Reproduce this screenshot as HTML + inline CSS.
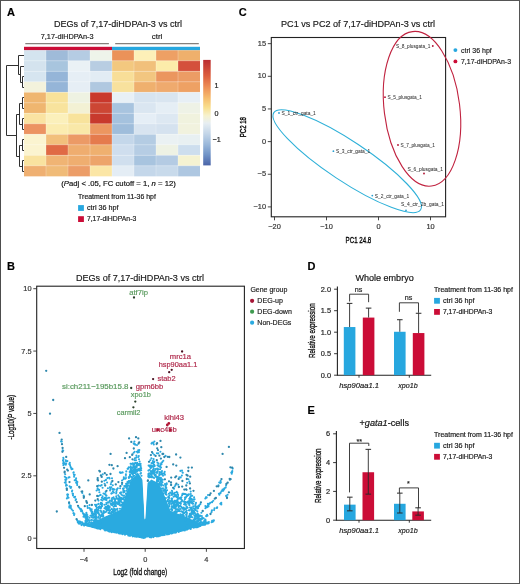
<!DOCTYPE html>
<html><head><meta charset="utf-8"><style>
html,body{margin:0;padding:0;background:#fff;}
body{width:520px;height:584px;overflow:hidden;position:relative;}
svg{position:absolute;left:0;top:0;font-family:"Liberation Sans", sans-serif;filter:blur(0.3px);}
text{stroke:currentColor;stroke-width:0.18px;}
.frame{position:absolute;left:0;top:0;width:520px;height:584px;box-sizing:border-box;border:1px solid #555;border-left:1.5px solid #4d4d4d;}
</style></head><body>
<svg width="520" height="584" viewBox="0 0 520 584">
<text x="6.9" y="15.9" font-size="11" fill="#000" color="#000" font-weight="bold">A</text>
<text x="54" y="27.4" font-size="9.3" fill="#1a1a1a" color="#1a1a1a" textLength="128" lengthAdjust="spacingAndGlyphs">DEGs of 7,17-diHDPAn-3 vs ctrl</text>
<text x="40.7" y="39.3" font-size="7.4" fill="#1a1a1a" color="#1a1a1a" textLength="52.9" lengthAdjust="spacingAndGlyphs">7,17-diHDPAn-3</text>
<text x="151.8" y="39.3" font-size="7.4" fill="#1a1a1a" color="#1a1a1a" textLength="10.6" lengthAdjust="spacingAndGlyphs">ctrl</text>
<line x1="25.3" y1="43.6" x2="108.9" y2="43.6" stroke="#85807c" stroke-width="1.4"/>
<line x1="115.2" y1="43.6" x2="198.8" y2="43.6" stroke="#85807c" stroke-width="1.4"/>
<rect x="24" y="46.8" width="88" height="3.5" fill="#cb0d37"/>
<rect x="112" y="46.8" width="88" height="3.5" fill="#27a7df"/>
<rect x="24" y="50.3" width="22" height="10.55" fill="#d4e4ef"/>
<rect x="46" y="50.3" width="22" height="10.55" fill="#9fbbd9"/>
<rect x="68" y="50.3" width="22" height="10.55" fill="#b5cce3"/>
<rect x="90" y="50.3" width="22" height="10.55" fill="#eef4ea"/>
<rect x="112" y="50.3" width="22" height="10.55" fill="#eb9259"/>
<rect x="134" y="50.3" width="22" height="10.55" fill="#fdf0b8"/>
<rect x="156" y="50.3" width="22" height="10.55" fill="#eea064"/>
<rect x="178" y="50.3" width="22" height="10.55" fill="#efb06c"/>
<rect x="24" y="60.8" width="22" height="10.55" fill="#d4e3ee"/>
<rect x="46" y="60.8" width="22" height="10.55" fill="#a8c5de"/>
<rect x="68" y="60.8" width="22" height="10.55" fill="#eaf1f5"/>
<rect x="90" y="60.8" width="22" height="10.55" fill="#b8cde2"/>
<rect x="112" y="60.8" width="22" height="10.55" fill="#f3c87f"/>
<rect x="134" y="60.8" width="22" height="10.55" fill="#f1c07b"/>
<rect x="156" y="60.8" width="22" height="10.55" fill="#fcecaa"/>
<rect x="178" y="60.8" width="22" height="10.55" fill="#d4503c"/>
<rect x="24" y="71.3" width="22" height="10.55" fill="#d6e5f0"/>
<rect x="46" y="71.3" width="22" height="10.55" fill="#95b5d8"/>
<rect x="68" y="71.3" width="22" height="10.55" fill="#e6eef5"/>
<rect x="90" y="71.3" width="22" height="10.55" fill="#e2ecf4"/>
<rect x="112" y="71.3" width="22" height="10.55" fill="#f8de98"/>
<rect x="134" y="71.3" width="22" height="10.55" fill="#f2c680"/>
<rect x="156" y="71.3" width="22" height="10.55" fill="#eb965f"/>
<rect x="178" y="71.3" width="22" height="10.55" fill="#ec9c65"/>
<rect x="24" y="81.8" width="22" height="10.55" fill="#f3f2dc"/>
<rect x="46" y="81.8" width="22" height="10.55" fill="#95b5d8"/>
<rect x="68" y="81.8" width="22" height="10.55" fill="#e6eef5"/>
<rect x="90" y="81.8" width="22" height="10.55" fill="#b0c8e0"/>
<rect x="112" y="81.8" width="22" height="10.55" fill="#f8e19d"/>
<rect x="134" y="81.8" width="22" height="10.55" fill="#efb06e"/>
<rect x="156" y="81.8" width="22" height="10.55" fill="#efaa6e"/>
<rect x="178" y="81.8" width="22" height="10.55" fill="#eea164"/>
<rect x="24" y="92.3" width="22" height="10.55" fill="#efb670"/>
<rect x="46" y="92.3" width="22" height="10.55" fill="#f8e29a"/>
<rect x="68" y="92.3" width="22" height="10.55" fill="#eef2e2"/>
<rect x="90" y="92.3" width="22" height="10.55" fill="#c9382c"/>
<rect x="112" y="92.3" width="22" height="10.55" fill="#e8f0f6"/>
<rect x="134" y="92.3" width="22" height="10.55" fill="#d7e4f0"/>
<rect x="156" y="92.3" width="22" height="10.55" fill="#d9e5f0"/>
<rect x="178" y="92.3" width="22" height="10.55" fill="#e7eff5"/>
<rect x="24" y="102.8" width="22" height="10.55" fill="#efb670"/>
<rect x="46" y="102.8" width="22" height="10.55" fill="#f8e39d"/>
<rect x="68" y="102.8" width="22" height="10.55" fill="#f3f1d4"/>
<rect x="90" y="102.8" width="22" height="10.55" fill="#cc4634"/>
<rect x="112" y="102.8" width="22" height="10.55" fill="#a8c4df"/>
<rect x="134" y="102.8" width="22" height="10.55" fill="#dae6f1"/>
<rect x="156" y="102.8" width="22" height="10.55" fill="#e5eef5"/>
<rect x="178" y="102.8" width="22" height="10.55" fill="#eef2e6"/>
<rect x="24" y="113.3" width="22" height="10.55" fill="#fae3a2"/>
<rect x="46" y="113.3" width="22" height="10.55" fill="#fbf0bb"/>
<rect x="68" y="113.3" width="22" height="10.55" fill="#f8e39c"/>
<rect x="90" y="113.3" width="22" height="10.55" fill="#c8392d"/>
<rect x="112" y="113.3" width="22" height="10.55" fill="#a5c2de"/>
<rect x="134" y="113.3" width="22" height="10.55" fill="#e5eef6"/>
<rect x="156" y="113.3" width="22" height="10.55" fill="#dde8f2"/>
<rect x="178" y="113.3" width="22" height="10.55" fill="#f0f2de"/>
<rect x="24" y="123.8" width="22" height="10.55" fill="#ec9362"/>
<rect x="46" y="123.8" width="22" height="10.55" fill="#fbecb0"/>
<rect x="68" y="123.8" width="22" height="10.55" fill="#f9e8a8"/>
<rect x="90" y="123.8" width="22" height="10.55" fill="#ec9660"/>
<rect x="112" y="123.8" width="22" height="10.55" fill="#9fbddb"/>
<rect x="134" y="123.8" width="22" height="10.55" fill="#d8e4f0"/>
<rect x="156" y="123.8" width="22" height="10.55" fill="#d5e2ef"/>
<rect x="178" y="123.8" width="22" height="10.55" fill="#f1f2de"/>
<rect x="24" y="134.3" width="22" height="10.55" fill="#fbf4d0"/>
<rect x="46" y="134.3" width="22" height="10.55" fill="#f2c07c"/>
<rect x="68" y="134.3" width="22" height="10.55" fill="#ec9a66"/>
<rect x="90" y="134.3" width="22" height="10.55" fill="#e57b4d"/>
<rect x="112" y="134.3" width="22" height="10.55" fill="#c4d7ea"/>
<rect x="134" y="134.3" width="22" height="10.55" fill="#b4cce3"/>
<rect x="156" y="134.3" width="22" height="10.55" fill="#eaf1f3"/>
<rect x="178" y="134.3" width="22" height="10.55" fill="#e8f0f2"/>
<rect x="24" y="144.8" width="22" height="10.55" fill="#fbf4d0"/>
<rect x="46" y="144.8" width="22" height="10.55" fill="#e06a45"/>
<rect x="68" y="144.8" width="22" height="10.55" fill="#efad6f"/>
<rect x="90" y="144.8" width="22" height="10.55" fill="#efb06f"/>
<rect x="112" y="144.8" width="22" height="10.55" fill="#cfdeee"/>
<rect x="134" y="144.8" width="22" height="10.55" fill="#b6cde4"/>
<rect x="156" y="144.8" width="22" height="10.55" fill="#eef2e4"/>
<rect x="178" y="144.8" width="22" height="10.55" fill="#cddeee"/>
<rect x="24" y="155.3" width="22" height="10.55" fill="#f9e3a0"/>
<rect x="46" y="155.3" width="22" height="10.55" fill="#f0b474"/>
<rect x="68" y="155.3" width="22" height="10.55" fill="#efae70"/>
<rect x="90" y="155.3" width="22" height="10.55" fill="#eda46a"/>
<rect x="112" y="155.3" width="22" height="10.55" fill="#d0dfee"/>
<rect x="134" y="155.3" width="22" height="10.55" fill="#a8c4df"/>
<rect x="156" y="155.3" width="22" height="10.55" fill="#b4cbe3"/>
<rect x="178" y="155.3" width="22" height="10.55" fill="#f5f3d2"/>
<rect x="24" y="165.8" width="22" height="10.55" fill="#efb072"/>
<rect x="46" y="165.8" width="22" height="10.55" fill="#f0bb78"/>
<rect x="68" y="165.8" width="22" height="10.55" fill="#ec9d68"/>
<rect x="90" y="165.8" width="22" height="10.55" fill="#fbe6a6"/>
<rect x="112" y="165.8" width="22" height="10.55" fill="#e4edf5"/>
<rect x="134" y="165.8" width="22" height="10.55" fill="#c4d7ea"/>
<rect x="156" y="165.8" width="22" height="10.55" fill="#c8daeb"/>
<rect x="178" y="165.8" width="22" height="10.55" fill="#aec7e1"/>
<line x1="46" y1="50.3" x2="46" y2="176.3" stroke="#ffffff" stroke-width="0.25"/>
<line x1="68" y1="50.3" x2="68" y2="176.3" stroke="#ffffff" stroke-width="0.25"/>
<line x1="90" y1="50.3" x2="90" y2="176.3" stroke="#ffffff" stroke-width="0.25"/>
<line x1="112" y1="50.3" x2="112" y2="176.3" stroke="#ffffff" stroke-width="0.25"/>
<line x1="134" y1="50.3" x2="134" y2="176.3" stroke="#ffffff" stroke-width="0.25"/>
<line x1="156" y1="50.3" x2="156" y2="176.3" stroke="#ffffff" stroke-width="0.25"/>
<line x1="178" y1="50.3" x2="178" y2="176.3" stroke="#ffffff" stroke-width="0.25"/>
<line x1="24" y1="60.8" x2="200" y2="60.8" stroke="#ffffff" stroke-width="0.25"/>
<line x1="24" y1="71.3" x2="200" y2="71.3" stroke="#ffffff" stroke-width="0.25"/>
<line x1="24" y1="81.8" x2="200" y2="81.8" stroke="#ffffff" stroke-width="0.25"/>
<line x1="24" y1="92.3" x2="200" y2="92.3" stroke="#ffffff" stroke-width="0.25"/>
<line x1="24" y1="102.8" x2="200" y2="102.8" stroke="#ffffff" stroke-width="0.25"/>
<line x1="24" y1="113.3" x2="200" y2="113.3" stroke="#ffffff" stroke-width="0.25"/>
<line x1="24" y1="123.8" x2="200" y2="123.8" stroke="#ffffff" stroke-width="0.25"/>
<line x1="24" y1="134.3" x2="200" y2="134.3" stroke="#ffffff" stroke-width="0.25"/>
<line x1="24" y1="144.8" x2="200" y2="144.8" stroke="#ffffff" stroke-width="0.25"/>
<line x1="24" y1="155.3" x2="200" y2="155.3" stroke="#ffffff" stroke-width="0.25"/>
<line x1="24" y1="165.8" x2="200" y2="165.8" stroke="#ffffff" stroke-width="0.25"/>
<defs><linearGradient id="cb" x1="0" y1="0" x2="0" y2="1"><stop offset="0" stop-color="#bb2f33"/><stop offset="0.15" stop-color="#dc5e3e"/><stop offset="0.26" stop-color="#ee8f56"/><stop offset="0.36" stop-color="#f6bc6d"/><stop offset="0.45" stop-color="#f9df8e"/><stop offset="0.53" stop-color="#f6f2cf"/><stop offset="0.6" stop-color="#e7eef2"/><stop offset="0.7" stop-color="#c3d5e8"/><stop offset="0.8" stop-color="#9bb8da"/><stop offset="0.9" stop-color="#7093c7"/><stop offset="1" stop-color="#4a64a8"/></linearGradient></defs>
<rect x="203.2" y="59.9" width="7.5" height="105.5" fill="url(#cb)"/>
<text x="214.5" y="87.5" font-size="7.2" fill="#1a1a1a" color="#1a1a1a">1</text>
<text x="214.5" y="115.5" font-size="7.2" fill="#1a1a1a" color="#1a1a1a">0</text>
<text x="212.5" y="141.5" font-size="7.2" fill="#1a1a1a" color="#1a1a1a">−1</text>
<path d="M24,76.5 L22.5,76.5 L22.5,87.5 L24,87.5" fill="none" stroke="#303030" stroke-width="1"/>
<path d="M24,66.5 L20.5,66.5 L20.5,82.5 L22.5,82.5" fill="none" stroke="#303030" stroke-width="1"/>
<path d="M24,55.5 L18.5,55.5 L18.5,74.5 L20.5,74.5" fill="none" stroke="#303030" stroke-width="1"/>
<path d="M24,97.5 L22.5,97.5 L22.5,108.5 L24,108.5" fill="none" stroke="#303030" stroke-width="1"/>
<path d="M24,118.5 L22.5,118.5 L22.5,129.5 L24,129.5" fill="none" stroke="#303030" stroke-width="1"/>
<path d="M22.5,103.5 L19.5,103.5 L19.5,124.5 L22.5,124.5" fill="none" stroke="#303030" stroke-width="1"/>
<path d="M24,139.5 L22.5,139.5 L22.5,150.5 L24,150.5" fill="none" stroke="#303030" stroke-width="1"/>
<path d="M24,160.5 L22.5,160.5 L22.5,171.5 L24,171.5" fill="none" stroke="#303030" stroke-width="1"/>
<path d="M22.5,145.5 L19.5,145.5 L19.5,166.5 L22.5,166.5" fill="none" stroke="#303030" stroke-width="1"/>
<path d="M19.5,114.5 L16.5,114.5 L16.5,156.5 L19.5,156.5" fill="none" stroke="#303030" stroke-width="1"/>
<path d="M18.5,65.5 L6.5,65.5 L6.5,135.5 L16.5,135.5" fill="none" stroke="#303030" stroke-width="1"/>
<text x="61.3" y="185.8" font-size="7.6" fill="#1a1a1a" textLength="114.5" lengthAdjust="spacingAndGlyphs">(<tspan font-style="italic">P</tspan>adj &lt; .05, FC cutoff = 1, <tspan font-style="italic">n</tspan> = 12)</text>
<text x="78.1" y="199" font-size="6.6" fill="#1a1a1a" color="#1a1a1a" textLength="77.8" lengthAdjust="spacingAndGlyphs">Treatment from 11-36 hpf</text>
<rect x="78.1" y="205.1" width="5.8" height="5.8" fill="#27a7df"/>
<text x="86.89999999999999" y="210.0" font-size="6.9" fill="#1a1a1a" color="#1a1a1a" textLength="31.6" lengthAdjust="spacingAndGlyphs">ctrl 36 hpf</text>
<rect x="78.1" y="216.2" width="5.8" height="5.8" fill="#cb0d37"/>
<text x="86.89999999999999" y="221.1" font-size="6.9" fill="#1a1a1a" color="#1a1a1a" textLength="49.4" lengthAdjust="spacingAndGlyphs">7,17-diHDPAn-3</text>
<text x="238.8" y="16.2" font-size="11" fill="#000" color="#000" font-weight="bold">C</text>
<text x="281" y="27.3" font-size="9.3" fill="#1a1a1a" color="#1a1a1a" textLength="154" lengthAdjust="spacingAndGlyphs">PC1 vs PC2 of 7,17-diHDPAn-3 vs ctrl</text>
<rect x="271.3" y="37.5" width="174.3" height="179.3" fill="none" stroke="#222" stroke-width="1.1"/>
<line x1="267.8" y1="43.64999999999999" x2="271.3" y2="43.64999999999999" stroke="#333" stroke-width="0.9"/>
<text x="266" y="45.74999999999999" font-size="7.4" fill="#333" color="#333" text-anchor="end">15</text>
<line x1="267.8" y1="76.3" x2="271.3" y2="76.3" stroke="#333" stroke-width="0.9"/>
<text x="266" y="78.39999999999999" font-size="7.4" fill="#333" color="#333" text-anchor="end">10</text>
<line x1="267.8" y1="108.94999999999999" x2="271.3" y2="108.94999999999999" stroke="#333" stroke-width="0.9"/>
<text x="266" y="111.04999999999998" font-size="7.4" fill="#333" color="#333" text-anchor="end">5</text>
<line x1="267.8" y1="141.6" x2="271.3" y2="141.6" stroke="#333" stroke-width="0.9"/>
<text x="266" y="143.7" font-size="7.4" fill="#333" color="#333" text-anchor="end">0</text>
<line x1="267.8" y1="174.25" x2="271.3" y2="174.25" stroke="#333" stroke-width="0.9"/>
<text x="266" y="176.35" font-size="7.4" fill="#333" color="#333" text-anchor="end">−5</text>
<line x1="267.8" y1="206.89999999999998" x2="271.3" y2="206.89999999999998" stroke="#333" stroke-width="0.9"/>
<text x="266" y="208.99999999999997" font-size="7.4" fill="#333" color="#333" text-anchor="end">−10</text>
<line x1="274.5" y1="216.8" x2="274.5" y2="220.3" stroke="#333" stroke-width="0.9"/>
<text x="274.5" y="229.1" font-size="7.4" fill="#333" color="#333" text-anchor="middle">−20</text>
<line x1="326.5" y1="216.8" x2="326.5" y2="220.3" stroke="#333" stroke-width="0.9"/>
<text x="326.5" y="229.1" font-size="7.4" fill="#333" color="#333" text-anchor="middle">−10</text>
<line x1="378.5" y1="216.8" x2="378.5" y2="220.3" stroke="#333" stroke-width="0.9"/>
<text x="378.5" y="229.1" font-size="7.4" fill="#333" color="#333" text-anchor="middle">0</text>
<line x1="430.5" y1="216.8" x2="430.5" y2="220.3" stroke="#333" stroke-width="0.9"/>
<text x="430.5" y="229.1" font-size="7.4" fill="#333" color="#333" text-anchor="middle">10</text>
<text x="345.6" y="242.9" font-size="9.8" fill="#1e1e1e" style="stroke-width:0.4px" textLength="25.7" lengthAdjust="spacingAndGlyphs">PC1 24.8</text>
<text transform="translate(246.1,137.3) rotate(-90)" x="0" y="0" font-size="9.2" fill="#1e1e1e" style="stroke-width:0.4px" textLength="20.3" lengthAdjust="spacingAndGlyphs">PC2 18</text>
<ellipse cx="347.2" cy="161.2" rx="88" ry="20" transform="rotate(33.5 347.2 161.2)" fill="none" stroke="#2eb0d8" stroke-width="1.1"/>
<ellipse cx="422" cy="108.8" rx="37.8" ry="77.8" transform="rotate(-7 422 108.8)" fill="none" stroke="#c0223f" stroke-width="1.1"/>
<circle cx="279" cy="113" r="0.9" fill="#2a9fd0"/>
<text x="281.5" y="114.9" font-size="5.2" fill="#333" color="#333" textLength="34.3" lengthAdjust="spacingAndGlyphs" style="stroke-width:0.05px">S_1_ctr_gata_1</text>
<circle cx="333.4" cy="151.2" r="0.9" fill="#2a9fd0"/>
<text x="335.9" y="153.1" font-size="5.2" fill="#333" color="#333" textLength="34.3" lengthAdjust="spacingAndGlyphs" style="stroke-width:0.05px">S_3_ctr_gata_1</text>
<circle cx="372.3" cy="195.6" r="0.9" fill="#2a9fd0"/>
<text x="374.8" y="197.5" font-size="5.2" fill="#333" color="#333" textLength="34.3" lengthAdjust="spacingAndGlyphs" style="stroke-width:0.05px">S_2_ctr_gata_1</text>
<circle cx="406" cy="210.3" r="0.9" fill="#2a9fd0"/>
<text x="401" y="205.9" font-size="5.2" fill="#333" color="#333" textLength="43" lengthAdjust="spacingAndGlyphs" style="stroke-width:0.05px">S_4_ctr_2b_gata_1</text>
<circle cx="432.8" cy="46" r="0.9" fill="#b01030"/>
<text x="430.3" y="47.9" font-size="5.2" fill="#333" color="#333" text-anchor="end" textLength="34.3" lengthAdjust="spacingAndGlyphs" style="stroke-width:0.05px">S_8_plusgata_1</text>
<circle cx="385" cy="97.2" r="0.9" fill="#b01030"/>
<text x="387.5" y="99.10000000000001" font-size="5.2" fill="#333" color="#333" textLength="34.3" lengthAdjust="spacingAndGlyphs" style="stroke-width:0.05px">S_5_plusgata_1</text>
<circle cx="398" cy="145" r="0.9" fill="#b01030"/>
<text x="400.5" y="146.9" font-size="5.2" fill="#333" color="#333" textLength="34.3" lengthAdjust="spacingAndGlyphs" style="stroke-width:0.05px">S_7_plusgata_1</text>
<circle cx="424" cy="173.5" r="0.9" fill="#b01030"/>
<text x="407.6" y="170.6" font-size="5.2" fill="#333" color="#333" textLength="35.4" lengthAdjust="spacingAndGlyphs" style="stroke-width:0.05px">S_6_plusgata_1</text>
<circle cx="455.4" cy="50.1" r="1.95" fill="#27a7df"/>
<circle cx="455.4" cy="61.4" r="1.95" fill="#cb0d37"/>
<text x="461" y="52.8" font-size="8" fill="#1a1a1a" color="#1a1a1a" textLength="30.8" lengthAdjust="spacingAndGlyphs">ctrl 36 hpf</text>
<text x="461" y="64.2" font-size="8" fill="#1a1a1a" color="#1a1a1a" textLength="50" lengthAdjust="spacingAndGlyphs">7,17-diHDPAn-3</text>
<text x="6.9" y="269.8" font-size="11" fill="#000" color="#000" font-weight="bold">B</text>
<text x="76" y="281.3" font-size="9.3" fill="#1a1a1a" color="#1a1a1a" textLength="128" lengthAdjust="spacingAndGlyphs">DEGs of 7,17-diHDPAn-3 vs ctrl</text>
<path d="M85.5,524.0 L86.3,524.3 L87.1,524.5 L87.8,524.2 L88.6,523.9 L89.4,523.5 L90.1,523.2 L90.9,522.9 L91.6,522.6 L92.4,522.3 L93.2,522.0 L93.9,521.6 L94.7,521.3 L95.5,520.9 L96.2,520.6 L97.0,520.2 L97.8,519.9 L98.5,519.6 L99.3,519.2 L100.1,518.9 L100.8,518.5 L101.6,518.2 L102.4,517.8 L103.1,517.5 L103.9,517.1 L104.7,516.8 L105.4,516.4 L106.2,516.1 L106.9,515.7 L107.7,515.4 L108.5,515.1 L109.2,514.7 L110.0,514.4 L110.8,514.0 L111.5,513.7 L112.3,513.3 L113.1,513.0 L113.8,512.6 L114.6,512.3 L115.4,511.9 L116.1,511.6 L116.9,511.2 L117.7,510.9 L118.4,510.5 L119.2,510.2 L120.0,509.9 L120.7,509.5 L121.5,507.2 L122.2,504.9 L123.0,502.6 L123.8,500.2 L124.5,497.9 L125.3,495.6 L126.1,493.3 L126.8,491.3 L127.6,489.4 L128.4,487.4 L129.1,485.4 L129.9,483.5 L130.7,481.5 L131.4,479.6 L132.2,478.9 L133.0,478.2 L133.7,477.5 L134.5,476.8 L135.3,476.1 L136.0,475.4 L136.8,474.7 L137.5,474.0 L138.3,473.3 L139.1,474.5 L139.8,475.6 L140.6,476.7 L141.4,477.9 L142.1,479.0 L142.9,480.1 L144.4,518.2 L144.9,519.5 L145.4,518.2 L147.5,482.9 L148.3,482.2 L149.0,481.6 L149.8,480.9 L150.6,480.2 L151.3,479.6 L152.1,479.9 L152.8,480.3 L153.6,480.7 L154.4,481.1 L155.1,481.4 L155.9,481.8 L156.7,482.2 L157.4,482.6 L158.2,482.9 L159.0,483.3 L159.7,485.0 L160.5,486.7 L161.3,488.5 L162.0,490.2 L162.8,491.9 L163.6,493.6 L164.3,495.3 L165.1,497.0 L165.9,499.0 L166.6,501.0 L167.4,502.9 L168.2,504.9 L168.9,506.8 L169.7,508.8 L170.4,510.8 L171.2,511.0 L172.0,511.3 L172.7,511.6 L173.5,511.9 L174.3,512.2 L175.0,512.5 L175.8,512.8 L176.6,513.1 L177.3,513.4 L178.1,513.7 L178.9,514.0 L179.6,514.3 L180.4,514.6 L181.2,514.9 L181.9,515.2 L182.7,515.5 L183.4,515.7 L184.2,516.1 L185.0,516.4 L185.7,516.8 L186.5,517.1 L187.3,517.5 L188.0,517.8 L188.8,518.2 L189.6,518.5 L190.3,518.9 L191.1,519.2 L191.9,519.6 L192.6,519.9 L193.4,520.2 L194.2,520.6 L194.9,520.9 L195.7,521.3 L196.5,521.6 L197.2,522.0 L198.0,522.2 L198.8,522.5 L199.5,522.8 L200.3,523.0 L201.0,523.3 L201.8,523.5 L202.6,523.8 L203.3,524.1 L203.3,524.8 L202.6,525.0 L201.8,525.3 L201.0,525.5 L200.3,525.7 L199.5,526.0 L198.8,526.2 L198.0,526.5 L197.2,526.7 L196.5,526.9 L195.7,527.2 L194.9,527.4 L194.2,527.6 L193.4,527.8 L192.6,528.1 L191.9,528.3 L191.1,528.5 L190.3,528.7 L189.6,528.9 L188.8,529.1 L188.0,529.3 L187.3,529.5 L186.5,529.7 L185.7,529.9 L185.0,530.1 L184.2,530.3 L183.4,530.5 L182.7,530.7 L181.9,530.9 L181.2,531.1 L180.4,531.3 L179.6,531.5 L178.9,531.7 L178.1,531.9 L177.3,532.0 L176.6,532.2 L175.8,532.4 L175.0,532.6 L174.3,532.7 L173.5,532.9 L172.7,533.1 L172.0,533.2 L171.2,533.4 L170.4,533.6 L169.7,533.7 L168.9,533.9 L168.2,534.0 L167.4,534.2 L166.6,534.3 L165.9,534.5 L165.1,534.6 L164.3,534.8 L163.6,534.9 L162.8,535.1 L162.0,535.2 L161.3,535.3 L160.5,535.5 L159.7,535.6 L159.0,535.7 L158.2,535.9 L157.4,536.0 L156.7,536.1 L155.9,536.2 L155.1,536.3 L154.4,536.5 L153.6,536.6 L152.8,536.7 L152.1,536.8 L151.3,536.9 L150.6,537.0 L149.8,537.1 L149.0,537.2 L148.3,537.3 L147.5,537.4 L146.7,537.5 L146.0,537.6 L145.2,537.7 L144.4,537.6 L143.7,537.5 L142.9,537.4 L142.1,537.3 L141.4,537.2 L140.6,537.1 L139.8,537.0 L139.1,536.9 L138.3,536.8 L137.5,536.7 L136.8,536.6 L136.0,536.5 L135.3,536.3 L134.5,536.2 L133.7,536.1 L133.0,536.0 L132.2,535.9 L131.4,535.7 L130.7,535.6 L129.9,535.5 L129.1,535.3 L128.4,535.2 L127.6,535.1 L126.8,534.9 L126.1,534.8 L125.3,534.6 L124.5,534.5 L123.8,534.3 L123.0,534.2 L122.2,534.0 L121.5,533.9 L120.7,533.7 L120.0,533.6 L119.2,533.4 L118.4,533.2 L117.7,533.1 L116.9,532.9 L116.1,532.7 L115.4,532.6 L114.6,532.4 L113.8,532.2 L113.1,532.0 L112.3,531.9 L111.5,531.7 L110.8,531.5 L110.0,531.3 L109.2,531.1 L108.5,530.9 L107.7,530.7 L106.9,530.5 L106.2,530.3 L105.4,530.1 L104.7,529.9 L103.9,529.7 L103.1,529.5 L102.4,529.3 L101.6,529.1 L100.8,528.9 L100.1,528.7 L99.3,528.5 L98.5,528.3 L97.8,528.1 L97.0,527.8 L96.2,527.6 L95.5,527.4 L94.7,527.2 L93.9,526.9 L93.2,526.7 L92.4,526.5 L91.6,526.2 L90.9,526.0 L90.1,525.7 L89.4,525.5 L88.6,525.3 L87.8,525.0 L87.1,524.8 L86.3,524.5 L85.5,524.3Z" fill="#2aaae0"/>
<path d="M144.9,519.5 L140.8,453.4 L149.0,453.4Z" fill="#fff"/>
<path d="M103.2 516.4h0M176.2 504.4h0M162.3 482.3h0M124.0 478.1h0M189.4 505.2h0M171.6 506.2h0M153.6 471.2h0M196.0 502.9h0M117.7 498.7h0M100.5 485.7h0M184.9 499.2h0M171.9 501.9h0M126.4 486.5h0M101.1 507.6h0M168.0 499.8h0M148.4 470.6h0M192.0 509.9h0M172.4 492.7h0M107.0 510.6h0M153.2 469.9h0M196.7 514.9h0M132.8 474.6h0M129.7 476.9h0M120.0 508.8h0M190.9 516.3h0M186.0 511.5h0M93.5 515.8h0M118.4 500.2h0M191.1 498.9h0M129.7 471.9h0M194.6 518.2h0M106.4 500.2h0M106.5 495.6h0M112.9 512.3h0M157.7 471.3h0M184.0 510.0h0M171.2 504.0h0M95.2 510.9h0M95.0 504.8h0M99.1 489.9h0M158.0 481.5h0M180.4 505.6h0M199.7 522.8h0M107.9 502.2h0M102.5 516.5h0M112.9 502.4h0M104.9 498.2h0M135.6 470.2h0M158.3 480.1h0M163.0 488.2h0M110.2 489.1h0M150.8 468.1h0M128.1 468.2h0M194.3 519.2h0M101.9 503.2h0M189.3 502.1h0M126.0 478.0h0M118.0 499.2h0M169.2 505.8h0M128.3 483.0h0M114.8 510.5h0M102.2 504.0h0M166.7 484.3h0M99.3 514.6h0M112.1 500.1h0M98.4 516.6h0M124.1 497.2h0M101.9 505.4h0M98.6 496.1h0M128.5 468.3h0M172.2 498.7h0M104.5 508.2h0M194.6 519.1h0M194.1 497.3h0M105.6 508.7h0M180.9 503.8h0M96.2 517.9h0M106.0 506.9h0M140.7 467.6h0M138.5 469.0h0M193.0 513.7h0M205.3 519.9h0M98.6 485.6h0M153.1 471.0h0M134.3 473.0h0M185.6 512.3h0M175.7 508.9h0M137.1 465.9h0M173.4 506.7h0M97.8 511.3h0M141.5 475.7h0M179.4 498.4h0M116.2 493.5h0M114.8 502.7h0M197.5 515.8h0M200.7 520.9h0M121.3 494.4h0M199.2 516.8h0M173.6 496.6h0M191.3 507.5h0M130.1 482.9h0M140.2 469.7h0M183.1 493.7h0M195.8 519.7h0M113.4 489.1h0M177.2 509.2h0M136.6 467.2h0M137.2 465.1h0M195.0 516.7h0M114.4 499.5h0M166.3 487.9h0M190.1 502.4h0M95.6 517.7h0M91.6 515.2h0M168.8 493.7h0M192.6 503.7h0M108.5 512.9h0M197.8 519.0h0M106.7 498.7h0M189.2 515.9h0M102.0 506.3h0M104.4 504.7h0M84.1 525.6h0M201.7 519.3h0M129.3 476.9h0M103.7 512.6h0M205.6 521.5h0M98.4 512.7h0M114.6 489.5h0M130.0 474.7h0M107.3 506.9h0M180.4 470.9h0M182.3 508.8h0M95.8 514.1h0M184.4 509.5h0M191.5 514.4h0M97.0 510.3h0M98.7 507.6h0M101.6 514.9h0M127.7 486.8h0M189.3 481.5h0M125.4 478.8h0M120.1 488.2h0M165.8 490.8h0M122.0 504.2h0M132.3 478.0h0M148.6 465.6h0M149.1 476.8h0M174.1 508.2h0M184.2 509.6h0M91.6 510.8h0M120.0 493.0h0M101.9 516.0h0M172.4 493.8h0M149.8 477.2h0M194.7 516.0h0M180.4 514.3h0M134.7 473.0h0M84.5 516.4h0M121.0 498.3h0M110.3 489.3h0M140.1 470.2h0M101.7 485.0h0M98.6 513.8h0M190.0 507.6h0M121.8 498.1h0M111.7 493.4h0M107.5 509.7h0M94.6 520.1h0M189.8 510.4h0M119.0 498.7h0M117.5 508.8h0M186.6 515.8h0M85.5 521.2h0M96.5 517.9h0M178.9 506.5h0M111.0 504.7h0M101.2 499.8h0M154.6 470.4h0M98.4 517.7h0M156.1 476.9h0M175.7 507.4h0M198.4 516.6h0M166.0 492.8h0M105.6 494.4h0M118.9 502.1h0M184.6 508.6h0M149.6 469.8h0M131.7 479.2h0M175.8 511.0h0M134.1 464.2h0M180.7 477.4h0M106.7 503.7h0M161.4 483.4h0M173.1 503.7h0M175.3 511.9h0M190.8 494.0h0M184.2 501.3h0M138.9 470.5h0M121.0 492.4h0M123.0 498.9h0M190.0 497.2h0M166.5 494.8h0M101.4 512.4h0M176.3 504.3h0M110.9 484.2h0M161.8 479.4h0M157.5 465.3h0M188.0 502.4h0M94.3 517.3h0M121.6 502.0h0M205.4 519.6h0M172.2 491.2h0M123.3 491.1h0M198.4 517.9h0M95.1 514.6h0M192.0 510.5h0M109.8 500.6h0M154.1 478.0h0M86.1 522.9h0M136.1 474.8h0M119.7 503.1h0M154.3 471.9h0M173.7 505.4h0M113.6 506.8h0M136.3 463.8h0M176.4 506.1h0M140.4 473.8h0M189.3 498.7h0M181.2 501.6h0M109.1 477.8h0M98.1 511.0h0M194.7 512.6h0M176.1 501.0h0M183.3 514.0h0M178.2 498.8h0M99.4 492.2h0M119.4 498.2h0M162.8 479.8h0M195.4 504.9h0M161.8 481.5h0M168.8 501.9h0M186.1 514.8h0M189.8 513.7h0M119.9 472.4h0M161.2 485.7h0M122.0 504.5h0M161.8 484.5h0M116.1 506.1h0M188.4 479.2h0M130.4 476.2h0M110.1 513.1h0M127.3 489.0h0M119.0 499.0h0M119.1 496.6h0M137.1 471.0h0M175.5 512.3h0M128.7 481.1h0M184.5 512.8h0M105.6 494.7h0M91.3 520.0h0M99.6 506.4h0M106.0 479.9h0M102.6 487.8h0M159.4 473.1h0M165.0 484.1h0M109.6 478.4h0M96.8 507.8h0M97.6 488.4h0M120.5 497.9h0M176.8 511.9h0M86.4 523.3h0M205.6 520.2h0M109.4 513.2h0M179.2 510.5h0M96.1 505.4h0M102.4 500.5h0M116.7 503.3h0M179.4 511.1h0M97.1 510.9h0M121.2 504.7h0M131.1 472.0h0M183.8 501.7h0M110.8 503.4h0M134.4 472.5h0M99.8 508.0h0M155.9 476.2h0M163.1 490.9h0M130.2 480.9h0M182.9 512.4h0M170.2 492.5h0M98.7 513.4h0M178.2 484.8h0M192.2 495.7h0M169.1 497.9h0M104.7 494.0h0M112.8 485.3h0M165.3 492.3h0M151.4 477.2h0M104.4 480.8h0M134.0 476.1h0M95.0 517.4h0M175.8 506.4h0M181.4 507.0h0M177.9 505.5h0M160.6 481.3h0M132.2 467.8h0M194.9 519.4h0M204.6 521.2h0M126.4 490.7h0M97.8 512.9h0M107.0 510.2h0M115.1 510.9h0M150.2 460.2h0M159.8 482.5h0M117.2 509.9h0M123.9 490.5h0M154.8 475.4h0M112.6 510.1h0M154.4 473.3h0M140.0 470.1h0M202.8 523.2h0M137.2 465.7h0M178.1 504.7h0M137.6 469.6h0M200.3 518.8h0M115.8 501.7h0M113.9 492.6h0M123.3 492.4h0M185.9 504.6h0M176.2 502.6h0M177.4 492.9h0M117.8 503.9h0M120.8 472.9h0M108.8 502.6h0M104.7 497.7h0M109.8 507.1h0M125.1 486.0h0M133.1 473.0h0M117.8 488.2h0M194.4 518.8h0M109.6 510.1h0M116.4 491.7h0M194.7 512.9h0M196.7 515.7h0M191.0 508.8h0M160.3 465.9h0M194.3 515.3h0M181.9 501.4h0M109.2 497.8h0M176.1 495.0h0M98.2 509.6h0M98.2 507.2h0M126.3 471.3h0M157.0 480.4h0M168.5 496.5h0M157.3 468.6h0M98.4 503.9h0M156.8 482.0h0M183.6 507.6h0M188.5 502.7h0M123.8 477.2h0M108.9 508.6h0M190.7 491.6h0M116.3 496.2h0M172.1 502.5h0M176.1 495.2h0M176.1 505.6h0M187.5 502.3h0M95.2 519.7h0M181.1 499.1h0M185.5 502.0h0M118.0 502.1h0M148.8 477.3h0M174.0 488.7h0M110.1 510.7h0M174.9 512.0h0M112.6 509.5h0M187.1 496.0h0M138.1 470.0h0M184.5 508.9h0M105.6 491.9h0M171.9 506.8h0M186.2 502.2h0M149.4 465.5h0M185.1 494.0h0M195.7 516.3h0M188.9 494.3h0M164.8 490.9h0M171.8 508.4h0M113.6 497.4h0M127.1 485.0h0M114.1 508.9h0M100.9 508.4h0M151.2 473.1h0M198.9 516.9h0M99.1 506.8h0M128.9 477.9h0M177.8 511.3h0M186.6 516.4h0M201.8 518.5h0M181.5 514.7h0M136.9 471.7h0M201.8 516.0h0M111.1 513.5h0M105.4 498.1h0M122.4 472.3h0M183.7 515.8h0M110.8 484.2h0M125.9 475.8h0M91.7 509.2h0M105.0 499.5h0M109.0 512.3h0M100.7 516.4h0M96.5 504.7h0M121.5 499.5h0M205.4 506.1h0M158.9 479.2h0M111.7 499.0h0M140.8 466.1h0M189.6 515.9h0M130.6 467.6h0M105.6 506.8h0M192.0 502.4h0M104.6 483.7h0M204.1 521.1h0M148.4 475.7h0M111.3 493.6h0M115.8 499.0h0M139.1 465.3h0M191.9 511.5h0M166.1 490.2h0M113.7 489.4h0M171.9 495.0h0M186.6 514.6h0M153.2 466.4h0M85.9 523.8h0M186.7 510.7h0M194.9 518.8h0M187.0 513.0h0M169.7 500.5h0M137.1 464.1h0M134.6 466.1h0M194.3 519.1h0M108.4 510.0h0M135.4 472.9h0M92.4 514.1h0M192.7 513.5h0M90.4 515.7h0M89.5 520.5h0M172.1 510.2h0M100.0 518.1h0M112.0 478.2h0M93.0 517.7h0M128.4 485.3h0M186.5 506.3h0M94.7 511.9h0M138.8 469.5h0M196.2 516.2h0M126.3 471.4h0M187.6 494.7h0M157.5 471.7h0M100.6 494.9h0M130.9 469.2h0M100.9 502.7h0M105.5 512.1h0M134.9 467.9h0M98.5 500.6h0M175.6 484.9h0M124.0 495.6h0M184.9 503.2h0M117.1 489.3h0M191.6 512.8h0M107.4 478.1h0M191.7 502.9h0M188.9 510.2h0M131.8 473.2h0M175.8 511.2h0M190.4 517.5h0M112.7 504.7h0M190.6 499.5h0M95.1 520.9h0M157.3 480.6h0M171.5 498.6h0M175.0 502.1h0M193.2 506.3h0M103.2 498.5h0M153.5 471.7h0M126.8 486.7h0M112.3 503.3h0M171.5 508.0h0M116.4 492.2h0M114.3 502.2h0M150.2 473.9h0M178.5 505.2h0M178.5 510.0h0M178.1 498.1h0M186.6 514.5h0M164.7 471.7h0M182.0 470.5h0M108.0 507.8h0M175.7 504.5h0M121.1 505.8h0M136.8 471.0h0M95.9 506.2h0M188.0 501.7h0M187.7 507.7h0M189.3 500.6h0M151.2 471.5h0M182.6 472.6h0M120.8 500.7h0M111.5 508.9h0M114.8 505.5h0M190.9 496.1h0M123.8 488.3h0M165.5 493.9h0M95.7 509.7h0M194.0 511.6h0M131.8 471.1h0M185.8 509.1h0M150.4 476.4h0M96.8 512.5h0M171.9 490.8h0M197.9 521.5h0M181.2 511.4h0M113.8 512.4h0M117.1 503.4h0M101.5 511.2h0M100.2 515.6h0M111.4 482.3h0M95.4 512.8h0M132.0 470.7h0M180.3 509.0h0M87.4 518.4h0M122.0 484.5h0M201.4 522.3h0M200.0 515.5h0M106.0 495.6h0M191.6 501.2h0M149.1 473.3h0M114.9 501.6h0M134.2 475.8h0M153.7 468.3h0M171.1 501.1h0M178.5 511.0h0M88.0 519.7h0M180.6 503.6h0M176.7 491.9h0M189.6 500.9h0M131.6 477.0h0M148.3 474.1h0M129.7 476.5h0M114.1 498.9h0M112.2 498.0h0M172.0 506.4h0M140.1 465.5h0M195.8 518.6h0M152.5 472.7h0M164.5 490.3h0M101.9 497.8h0M100.7 516.3h0M169.1 506.4h0M86.6 514.1h0M115.6 504.3h0M186.9 506.8h0M123.3 489.8h0M113.2 503.7h0M138.8 469.3h0M136.0 460.3h0M94.4 514.5h0M187.7 501.9h0M133.2 466.0h0M174.9 492.8h0M134.5 469.2h0M182.5 514.9h0M112.2 505.3h0M103.2 515.3h0M158.4 469.3h0M185.8 502.7h0M96.6 490.5h0M87.7 507.9h0M96.5 505.2h0M178.0 494.5h0M119.9 505.3h0M174.2 502.9h0M159.9 484.8h0M202.2 522.6h0M112.0 493.2h0M174.2 507.3h0M133.1 473.8h0M163.5 493.3h0M102.8 514.1h0M175.2 496.3h0M133.5 476.6h0M174.2 506.0h0M132.8 463.9h0M123.7 499.5h0M96.3 509.3h0M177.3 503.6h0M165.8 486.1h0M113.8 503.9h0M169.7 495.6h0M195.6 504.0h0M195.4 506.7h0M198.4 514.9h0M169.2 504.5h0M192.3 499.8h0M192.4 517.2h0M111.5 501.0h0M205.6 522.7h0M171.3 493.7h0M157.8 476.8h0M125.9 493.7h0M111.4 487.2h0M190.4 497.5h0M134.0 467.2h0M95.3 511.6h0M174.3 511.9h0M127.6 468.7h0M87.6 523.3h0M165.9 498.0h0M173.5 493.7h0M167.0 501.3h0M92.1 516.1h0M93.5 520.5h0M141.0 473.1h0M118.3 495.2h0M203.6 522.2h0M136.6 466.1h0M182.4 511.5h0M197.3 511.4h0M128.8 477.3h0M153.2 470.9h0M177.9 502.3h0M178.7 506.6h0M110.2 510.2h0M125.3 486.6h0M169.4 500.5h0M198.0 519.1h0M128.1 482.5h0M126.6 487.9h0M123.3 499.1h0M140.7 473.2h0M108.9 507.5h0M135.0 466.2h0M120.1 499.8h0M172.6 501.0h0M165.9 486.1h0M177.6 500.1h0M193.3 510.5h0M91.7 519.7h0M115.1 502.7h0M104.1 512.8h0M112.3 509.5h0M150.9 472.1h0M119.9 497.4h0M106.3 511.6h0M100.9 485.6h0M106.4 509.8h0M178.7 507.8h0M104.0 499.3h0M132.7 472.4h0M192.9 508.0h0M173.0 501.4h0M168.9 503.3h0M85.5 520.7h0M195.2 506.1h0M114.5 503.0h0M172.0 498.5h0M87.3 515.0h0M114.9 505.9h0M139.0 459.3h0M205.0 520.0h0M122.4 495.5h0M98.2 489.6h0M87.6 519.6h0M166.7 483.4h0M187.2 482.7h0M192.1 510.3h0M180.0 506.1h0M152.9 477.3h0M174.0 504.9h0M174.9 500.9h0M116.8 490.3h0M189.5 510.2h0M100.7 507.9h0M96.3 509.6h0M171.9 499.8h0M100.5 504.1h0M137.3 474.1h0M184.0 504.3h0M157.4 481.0h0M125.9 485.5h0M108.6 505.5h0M194.8 512.9h0M86.0 520.1h0M183.9 493.9h0M192.8 503.7h0M171.1 509.4h0M139.0 452.1h0M177.7 503.4h0M103.8 511.1h0M107.9 488.3h0M172.2 509.8h0M182.1 495.3h0M203.9 522.4h0M185.2 504.7h0M154.4 471.7h0M152.6 466.0h0M189.6 515.5h0M190.9 515.3h0M159.2 483.7h0M127.4 482.1h0M110.1 490.5h0M105.9 497.7h0M134.0 466.0h0M118.2 498.9h0M122.0 480.5h0M159.3 474.2h0M180.4 497.8h0M86.4 512.8h0M187.0 507.9h0M111.9 511.9h0M100.2 495.0h0M118.3 504.3h0M177.4 499.4h0M175.0 500.7h0M93.9 521.1h0M109.9 487.3h0M200.0 520.1h0M181.4 497.3h0M173.6 496.8h0M186.3 494.5h0M169.9 502.5h0M193.1 503.8h0M139.5 464.1h0M159.6 477.7h0M183.4 512.2h0M126.8 483.8h0M191.4 502.4h0M188.2 503.8h0M174.7 494.7h0M172.9 507.0h0M182.8 472.8h0M140.2 469.4h0M95.0 511.2h0M163.0 475.8h0M178.1 496.0h0M184.5 513.1h0M193.0 499.2h0M152.2 476.3h0M119.1 500.5h0M114.8 502.1h0M177.3 504.7h0M95.1 520.2h0M197.2 515.6h0M185.0 497.6h0M167.1 490.2h0M102.6 496.3h0M112.4 489.0h0M94.8 513.7h0M155.7 474.9h0M188.6 495.1h0M113.1 502.8h0M189.3 504.1h0M174.4 511.9h0M111.7 503.8h0M108.2 497.7h0M114.8 503.8h0M119.4 503.5h0M116.3 496.8h0M193.8 501.4h0M103.5 493.5h0M195.8 514.0h0M199.9 516.2h0M115.7 509.3h0M112.8 491.3h0M107.2 508.1h0M123.0 488.6h0M102.7 474.4h0M114.7 510.9h0M163.3 490.1h0M106.4 504.2h0M168.2 497.4h0M96.0 514.7h0M186.4 496.6h0M152.2 471.9h0M160.7 472.6h0M124.5 492.0h0M113.0 510.8h0M103.4 513.2h0M100.7 507.4h0M89.7 517.7h0M196.4 507.4h0M154.1 462.2h0M140.6 463.9h0M122.8 503.1h0M158.4 481.2h0M194.6 499.2h0M133.8 464.8h0M153.2 472.0h0M174.1 502.5h0M134.5 469.7h0M176.6 496.9h0M100.2 510.8h0M133.2 470.4h0M176.0 506.8h0M176.4 504.1h0M161.5 488.6h0M133.3 471.0h0M95.0 510.0h0M179.3 477.2h0M151.6 473.7h0M198.2 508.1h0M115.7 503.5h0M174.3 508.0h0M171.4 493.6h0M109.5 501.6h0M129.9 476.1h0M85.5 524.7h0M127.8 482.4h0M198.3 519.5h0M178.2 502.3h0M84.0 515.7h0M181.9 475.5h0M103.3 513.3h0M130.4 470.2h0M164.9 489.2h0M153.3 470.9h0M115.1 500.6h0M182.5 493.9h0M157.1 479.3h0M157.2 478.3h0M189.6 516.0h0M151.3 475.2h0M179.5 502.9h0M92.0 517.3h0M107.9 505.9h0M93.7 515.9h0M175.7 504.5h0M119.9 501.0h0M96.1 516.8h0M107.1 482.5h0M185.2 508.2h0M207.3 522.6h0M159.0 536.2h0M97.7 527.7h0M81.2 522.3h0M170.3 533.1h0M198.0 526.6h0M96.3 527.1h0M91.8 526.4h0M119.5 533.4h0M208.2 522.9h0M171.5 532.6h0M100.1 528.1h0M97.2 527.0h0M202.9 525.0h0M105.7 529.4h0M100.4 529.3h0M100.4 529.1h0M136.0 535.8h0M98.7 527.8h0M204.6 524.3h0M98.8 528.5h0M193.8 527.7h0M155.5 535.9h0M140.9 536.2h0M108.5 530.2h0M114.2 532.3h0M119.9 533.2h0M92.5 526.6h0M137.0 536.3h0M108.0 530.0h0M114.8 532.1h0M105.1 530.4h0M176.0 532.5h0M160.4 535.6h0M111.0 531.0h0M135.8 535.7h0M172.8 532.4h0M139.3 537.0h0M163.9 534.8h0M111.8 532.2h0M106.7 530.3h0M122.1 533.4h0M156.9 536.5h0M96.3 528.1h0M118.0 532.5h0M172.1 532.7h0M141.5 537.5h0M200.6 524.9h0M122.0 533.6h0M91.0 525.9h0M84.6 524.3h0M91.6 525.9h0M161.6 535.1h0M208.7 523.3h0M200.2 525.0h0M125.7 533.8h0M97.6 528.4h0M98.4 527.8h0M131.4 534.9h0M149.6 536.2h0M135.3 536.5h0M137.1 536.7h0M134.8 535.6h0M197.4 525.8h0M198.4 525.8h0M87.5 525.1h0M110.8 530.7h0M121.6 533.5h0M205.5 524.1h0M182.4 530.5h0M116.2 532.7h0M198.6 526.2h0M151.1 537.4h0M121.0 533.5h0M100.4 528.2h0M97.4 528.0h0M213.9 520.4h0M132.6 535.0h0M198.8 526.6h0M79.8 522.8h0M197.2 527.2h0M79.0 521.7h0M179.9 530.7h0M212.6 521.3h0M140.9 537.2h0M190.7 529.0h0M93.5 527.0h0M177.8 531.2h0M132.7 536.1h0M143.3 537.9h0M109.8 531.6h0M206.9 523.4h0M208.1 523.4h0M129.1 535.1h0M212.2 522.0h0M212.5 520.8h0M204.4 524.5h0M157.1 535.3h0M177.9 531.4h0M134.8 536.4h0M171.6 533.1h0M94.9 526.4h0M89.1 525.2h0M175.3 531.5h0M168.7 534.2h0M197.4 526.5h0M178.2 531.0h0M164.7 534.9h0M94.6 527.5h0M144.8 537.8h0M193.0 527.2h0M88.1 524.7h0M84.1 524.0h0M151.1 536.9h0M111.9 531.8h0M119.1 533.3h0M145.0 536.7h0M195.0 526.5h0M84.9 523.3h0M193.2 526.9h0M200.4 525.9h0M80.0 521.5h0M89.2 525.0h0M109.0 530.4h0M136.4 536.7h0M109.4 531.4h0M133.0 536.2h0M80.5 521.7h0M144.9 537.1h0M122.5 534.3h0M195.5 527.1h0M175.7 532.6h0M129.4 535.7h0M123.4 533.4h0M213.3 521.4h0M171.8 533.5h0M128.3 535.4h0M169.2 533.9h0M153.7 536.7h0M178.7 531.9h0M119.5 533.5h0M171.4 533.4h0M198.0 526.8h0M207.7 522.7h0M197.2 526.4h0M200.8 524.7h0M199.6 525.2h0M128.2 534.7h0M180.5 531.0h0M91.5 525.7h0M212.6 521.4h0M104.5 529.8h0M121.8 533.5h0M134.9 536.2h0M181.8 530.4h0M91.4 526.4h0M204.1 524.1h0M93.9 526.1h0M188.6 528.8h0M143.3 537.4h0M161.8 535.0h0M208.9 522.1h0M130.3 535.7h0M124.7 533.9h0M159.2 535.9h0M137.7 536.4h0M132.7 536.3h0M113.7 532.0h0M201.2 524.9h0M139.7 536.1h0M183.9 530.3h0M93.6 527.1h0M174.5 532.6h0M149.7 537.1h0M190.1 528.3h0M206.6 523.0h0M169.3 532.8h0M190.1 527.9h0M206.4 522.8h0M132.3 535.2h0M129.7 535.8h0M92.2 526.9h0M212.1 520.9h0M105.6 529.3h0M140.8 536.2h0M80.3 522.7h0M86.7 524.0h0M154.2 535.6h0M132.3 535.4h0M157.6 536.2h0M82.1 522.2h0M139.2 536.9h0M130.1 535.8h0M178.5 531.6h0M202.3 524.2h0M78.5 522.0h0M195.7 527.3h0M136.1 536.2h0M167.0 534.5h0M153.6 537.1h0M144.2 536.6h0M180.9 530.9h0M108.9 530.1h0M172.6 532.9h0M157.7 535.9h0M162.9 535.2h0M86.5 523.9h0M184.5 530.0h0M153.8 536.4h0M139.0 536.1h0M88.9 525.8h0M84.2 523.6h0M178.6 530.9h0M137.2 536.4h0M108.4 531.3h0M114.5 532.1h0M107.9 530.2h0M173.5 532.6h0M184.8 530.5h0M186.9 529.7h0M208.0 522.7h0M159.6 535.2h0M205.2 524.6h0M138.1 536.1h0M137.9 535.9h0M156.6 535.8h0M204.1 524.7h0M158.6 535.8h0M197.4 525.7h0M194.1 526.9h0M145.4 537.0h0M107.7 530.5h0M211.6 522.3h0M111.9 532.1h0M183.9 530.2h0M191.0 527.6h0M78.9 521.3h0M119.4 532.9h0M159.5 534.9h0M167.0 534.5h0M110.6 531.5h0M118.5 533.3h0M125.0 534.8h0M141.7 537.4h0M79.3 522.0h0M132.8 536.4h0M152.7 535.8h0M138.9 536.5h0M172.4 532.9h0M138.2 536.4h0M143.9 536.7h0M82.8 523.2h0M133.8 535.4h0M153.1 537.0h0M208.7 522.2h0M150.3 537.0h0M145.1 536.7h0M199.4 525.9h0M196.8 526.8h0M136.6 536.2h0M78.2 522.7h0M63.4 465.2h0M65.3 479.5h0M68.5 497.8h0M85.8 524.9h0M73.0 510.8h0M80.6 523.2h0M71.7 509.4h0M66.9 498.4h0M85.0 524.8h0M80.1 523.5h0M87.1 525.6h0M69.2 503.7h0M66.2 484.5h0M73.6 513.0h0M86.9 525.4h0M83.1 523.4h0M63.2 450.6h0M70.8 505.9h0M66.1 477.8h0M67.9 497.6h0M66.0 485.8h0M63.7 464.6h0M83.5 524.8h0M78.5 522.0h0M90.0 526.2h0M63.3 457.8h0M74.4 514.0h0M61.1 441.4h0M85.5 524.6h0M77.8 522.2h0M88.8 524.4h0M83.4 524.7h0M63.5 459.0h0M63.2 463.4h0M62.6 450.2h0M89.5 526.0h0M87.8 525.6h0M79.1 523.8h0M63.0 460.4h0M61.8 441.6h0M81.5 525.1h0M70.8 507.9h0M70.4 507.1h0M70.8 507.1h0M67.5 494.2h0M80.9 523.0h0M80.5 523.4h0M89.1 525.0h0M73.4 513.2h0M67.7 496.2h0M65.2 474.2h0M66.9 485.3h0M90.1 525.9h0M70.5 505.5h0M68.1 497.8h0M66.5 478.9h0M65.8 480.9h0M84.8 524.4h0M87.5 525.5h0M66.7 488.2h0M70.7 507.5h0M74.1 515.1h0M64.8 482.5h0M88.7 526.0h0M69.0 503.2h0M64.4 463.4h0M63.5 461.8h0M65.6 480.7h0M67.3 498.0h0M78.7 523.5h0M79.0 523.1h0M80.1 523.3h0M68.1 494.5h0M65.7 482.8h0M88.9 524.8h0M67.2 494.8h0M77.2 520.4h0M82.8 523.7h0M69.3 506.4h0M69.3 507.6h0M67.4 494.5h0M89.7 525.4h0M89.3 526.0h0M64.8 476.7h0M89.2 525.4h0M94.2 524.7h0M69.5 477.3h0M91.5 523.0h0M71.2 487.0h0M72.6 493.7h0M89.4 521.9h0M92.4 523.7h0M94.4 524.8h0M70.8 487.8h0M85.6 515.9h0M69.6 486.2h0M75.1 496.8h0M91.9 522.5h0M93.7 523.9h0M81.9 510.3h0M88.5 519.9h0M82.2 511.2h0M80.7 509.7h0M94.3 524.3h0M86.7 516.9h0M86.1 517.6h0M79.8 508.6h0M82.9 513.1h0M87.9 520.3h0M81.1 511.3h0M87.5 519.5h0M87.0 519.7h0M94.7 524.2h0M66.0 461.6h0M94.3 524.6h0M67.4 461.1h0M89.4 522.5h0M87.4 519.2h0M72.0 491.5h0M78.7 507.3h0M68.5 477.6h0M81.0 509.1h0M69.0 477.3h0M65.7 460.3h0M86.1 518.4h0M75.6 500.2h0M93.5 523.9h0M86.7 519.4h0M70.5 487.8h0M86.8 518.4h0M91.5 523.7h0M65.8 464.7h0M84.7 514.2h0M68.5 477.5h0M70.8 487.9h0M66.2 463.8h0M87.2 521.2h0M93.6 523.5h0M89.2 522.2h0M83.4 514.0h0M94.1 524.0h0M87.3 520.0h0M73.0 493.8h0M83.5 514.2h0M83.8 514.5h0M80.3 508.8h0M74.7 497.5h0M74.2 497.3h0M85.4 517.7h0M87.1 518.1h0M73.0 495.4h0M92.8 524.4h0M76.0 499.3h0M91.4 522.3h0M72.2 490.5h0M83.9 515.7h0M99.1 522.4h0M74.1 476.8h0M100.6 523.3h0M100.0 523.3h0M82.3 493.0h0M91.8 513.2h0M74.3 475.2h0M87.4 506.1h0M72.0 468.8h0M96.7 520.2h0M76.1 478.4h0M70.7 467.1h0M73.4 472.8h0M75.8 479.8h0M69.8 464.5h0M83.6 495.6h0M91.6 511.7h0M77.0 483.8h0M74.7 474.8h0M72.5 469.0h0M71.1 468.0h0M96.0 516.4h0M97.8 520.5h0M92.1 512.4h0M96.4 520.1h0M89.6 508.0h0M91.7 510.8h0M73.9 474.7h0M97.7 521.0h0M92.2 511.7h0M90.3 509.7h0M93.7 514.8h0M99.0 521.3h0M93.7 517.6h0M69.3 464.1h0M77.2 485.1h0M91.2 510.9h0M101.0 523.0h0M71.6 469.3h0M73.7 472.4h0M91.3 511.6h0M89.6 505.1h0M76.1 482.7h0M74.7 480.3h0M76.3 480.7h0M98.8 521.5h0M90.7 509.7h0M100.4 523.3h0M76.6 482.1h0M71.6 468.3h0M99.8 521.4h0M77.4 482.0h0M70.1 465.5h0M97.9 521.1h0M94.2 517.1h0M90.6 509.4h0M69.8 462.9h0M95.4 518.2h0M92.5 513.7h0M92.9 513.4h0M192.0 524.9h0M202.2 517.8h0M206.1 516.1h0M217.2 507.3h0M187.6 527.7h0M203.0 518.5h0M187.7 527.2h0M221.3 504.4h0M195.6 522.1h0M187.8 527.5h0M197.3 521.0h0M187.7 526.3h0M185.4 529.5h0M206.8 515.3h0M190.3 525.1h0M221.3 502.9h0M186.1 527.6h0M186.3 528.0h0M191.7 524.2h0M190.8 525.1h0M203.0 518.0h0M226.1 495.9h0M206.4 516.2h0M202.6 518.0h0M226.9 497.0h0M202.6 517.8h0M216.7 507.9h0M211.8 510.9h0M217.0 508.0h0M203.7 518.3h0M185.7 528.7h0M206.8 515.2h0M212.0 510.2h0M207.5 515.8h0M187.6 527.7h0M193.0 523.8h0M227.6 494.8h0M211.5 512.3h0M188.5 527.1h0M207.1 514.9h0M193.1 523.8h0M221.2 503.5h0M190.7 525.8h0M197.3 521.7h0M220.3 503.8h0M187.7 526.9h0M188.3 526.5h0M200.9 519.8h0M192.8 523.8h0M214.5 508.4h0M214.1 510.1h0M199.9 519.2h0M185.0 529.0h0M198.4 521.4h0M200.1 519.5h0M186.1 528.9h0M194.0 520.4h0M207.1 507.2h0M225.7 487.5h0M189.2 524.1h0M231.8 473.8h0M190.4 522.1h0M191.2 523.2h0M191.8 521.1h0M189.9 523.4h0M232.0 471.7h0M222.6 489.9h0M212.1 502.3h0M197.8 513.8h0M207.9 505.7h0M220.6 492.9h0M219.4 494.7h0M224.0 489.4h0M224.5 488.4h0M222.2 490.8h0M190.0 523.7h0M197.8 516.2h0M210.3 502.8h0M222.2 490.6h0M193.2 520.3h0M205.4 508.2h0M221.5 491.3h0M219.5 493.7h0M197.9 516.4h0M193.3 520.4h0M197.2 517.8h0M207.0 506.6h0M186.1 525.0h0M190.6 522.4h0M187.7 525.5h0M226.1 485.4h0M190.3 523.0h0M209.6 503.5h0M207.5 506.2h0M190.7 522.7h0M212.0 502.0h0M207.2 506.5h0M222.6 489.5h0M208.5 506.4h0M206.7 507.2h0M232.2 471.7h0M207.9 503.9h0M186.5 525.2h0M187.2 525.0h0M197.7 516.1h0M232.3 471.1h0M232.7 468.6h0M213.3 500.7h0M231.3 472.6h0M187.4 525.4h0M189.7 523.9h0M209.0 504.1h0M218.9 493.7h0M201.4 512.8h0M194.7 518.8h0M208.5 505.7h0M223.2 490.7h0M186.5 525.5h0M187.1 526.2h0M193.1 521.0h0M232.1 472.2h0M224.1 488.7h0M206.6 497.2h0M191.3 514.9h0M189.5 515.3h0M186.3 519.4h0M220.6 480.9h0M189.3 517.9h0M187.4 519.0h0M186.9 519.8h0M194.4 508.7h0M192.1 513.2h0M185.4 521.0h0M189.3 517.1h0M186.2 519.0h0M187.4 518.9h0M188.8 516.7h0M193.2 512.0h0M190.5 514.8h0M195.7 510.1h0M186.2 519.9h0M200.4 504.1h0M206.1 497.6h0M220.8 482.5h0M187.0 518.4h0M198.1 506.7h0M187.0 519.4h0M198.2 506.3h0M220.1 482.9h0M205.9 497.3h0M190.5 513.8h0M218.5 485.3h0M191.6 513.1h0M185.4 521.0h0M185.0 520.7h0M206.7 497.6h0M194.8 509.6h0M205.3 498.5h0M195.4 508.6h0M186.1 519.4h0M191.5 514.1h0M199.1 506.1h0M196.4 506.8h0M219.9 482.8h0M208.0 495.0h0M185.8 520.2h0M190.4 516.5h0M219.2 482.5h0M185.9 518.8h0M192.3 511.4h0M199.2 505.2h0M185.5 520.2h0M185.5 520.8h0M198.4 505.8h0M195.6 509.4h0M133.5 465.9h0M161.6 472.5h0M162.7 473.9h0M131.1 463.9h0M161.0 464.0h0M130.0 475.3h0M162.4 482.3h0M154.2 464.7h0M158.5 477.7h0M159.8 472.1h0M137.7 452.4h0M133.1 471.6h0M133.7 443.4h0M130.8 466.2h0M164.4 473.7h0M130.6 463.7h0M161.1 467.5h0M161.5 464.3h0M155.7 469.0h0M138.3 457.0h0M161.2 474.4h0M134.4 460.1h0M151.7 467.0h0M166.1 492.0h0M141.2 470.3h0M158.6 466.3h0M150.5 467.6h0M154.3 461.6h0M137.1 462.9h0M153.8 444.4h0M148.5 477.0h0M155.9 476.0h0M153.2 442.8h0M163.4 485.5h0M140.1 470.8h0M130.1 474.3h0M136.4 455.6h0M139.8 470.6h0M154.2 454.7h0M139.6 461.6h0M136.9 451.7h0M133.7 452.7h0M138.0 463.9h0M159.7 466.7h0M134.6 451.8h0M153.4 469.4h0M140.1 468.6h0M160.1 469.2h0M152.3 462.9h0M135.2 462.9h0M160.6 480.6h0M134.4 468.9h0M138.2 451.8h0M162.0 471.0h0M132.0 473.6h0M134.0 444.0h0M165.6 485.3h0M131.8 471.4h0M157.0 472.9h0M157.9 469.4h0M155.7 469.6h0M136.3 457.6h0M154.9 475.7h0M157.3 477.5h0M162.0 471.1h0M134.9 444.1h0M152.3 442.8h0M132.1 463.8h0M149.1 475.7h0M149.8 466.6h0M151.5 463.0h0M133.7 470.1h0M134.8 469.5h0M159.3 478.2h0M150.9 473.5h0M160.2 479.8h0M151.6 474.3h0M151.0 465.3h0M141.2 468.3h0M163.3 460.7h0M155.6 469.2h0M160.9 477.9h0M148.3 476.5h0M130.4 476.1h0M159.3 475.4h0M134.1 471.2h0M160.6 480.4h0M152.2 470.8h0M156.9 453.2h0M165.5 486.9h0M160.2 466.5h0M152.8 453.2h0M164.4 472.9h0M151.4 458.4h0M153.4 463.9h0M164.9 474.8h0M165.6 455.9h0M135.8 467.8h0M153.5 473.8h0M138.8 456.0h0M154.7 465.9h0M139.3 450.1h0M157.4 462.6h0M140.8 469.8h0M134.9 458.3h0M135.2 444.7h0M133.2 469.0h0M136.1 469.6h0M154.4 441.5h0M161.3 483.4h0M151.5 443.6h0M136.6 464.8h0M160.4 451.7h0M134.4 441.5h0M152.8 461.1h0M135.3 470.7h0M158.6 463.6h0M156.3 472.3h0M152.1 442.9h0M151.6 472.0h0M185.9 497.6h0M131.8 470.7h0M122.7 472.5h0M182.1 507.7h0M106.3 503.0h0M87.8 516.7h0M137.0 445.1h0M153.6 459.1h0M125.9 474.3h0M174.7 486.5h0M158.2 453.4h0M150.7 471.2h0M138.2 450.3h0M197.7 508.5h0M176.7 501.2h0M123.5 479.3h0M124.3 486.1h0M101.9 503.5h0M160.5 465.0h0M161.3 463.1h0M126.1 483.7h0M124.2 490.7h0M162.3 462.1h0M122.2 472.5h0M117.3 488.8h0M132.9 463.2h0M127.9 469.0h0M117.1 489.3h0M128.8 467.2h0M83.5 516.7h0M116.5 498.0h0M182.2 500.2h0" stroke="#2aaae0" stroke-width="2.1" stroke-linecap="round" fill="none"/>
<path d="M120.4 486.2h0M164.9 479.3h0M182.2 486.6h0M175.2 477.3h0M176.1 454.5h0M106.5 490.8h0M97.7 499.2h0M186.1 489.3h0M147.9 480.8h0M101.7 476.9h0M169.0 481.3h0M89.7 494.4h0M115.8 484.4h0M191.9 467.6h0M110.6 453.9h0M171.1 485.0h0M106.7 474.8h0M129.8 457.2h0M97.2 486.2h0M111.8 465.2h0M97.2 496.0h0M186.3 485.5h0M98.0 480.4h0M178.9 487.0h0M105.2 485.5h0M176.4 483.6h0M101.8 481.7h0M190.2 476.7h0M147.9 480.4h0M122.1 482.9h0M190.1 488.5h0M180.4 457.6h0M176.3 465.6h0M193.5 490.8h0M95.3 500.6h0M109.4 464.8h0M187.6 475.7h0M117.6 466.2h0M110.5 474.0h0M178.7 478.9h0M147.8 480.9h0M100.9 475.4h0M173.1 487.8h0M182.4 481.0h0M99.9 471.5h0M186.5 489.8h0M186.5 474.8h0M97.7 478.1h0M171.0 482.5h0M112.4 481.0h0M188.4 467.6h0M188.3 471.0h0M189.9 483.4h0M176.2 476.3h0M169.3 457.0h0M104.8 473.2h0M66.9 489.9h0M64.1 467.8h0M64.7 471.7h0M62.6 448.0h0M62.4 451.8h0M62.0 444.2h0M76.6 519.2h0M64.6 472.6h0M69.1 502.3h0M66.8 489.0h0M67.9 470.6h0M78.0 505.8h0M66.2 456.9h0M69.5 482.1h0M67.2 469.7h0M76.8 502.1h0M79.2 487.0h0M83.8 497.8h0M87.0 502.9h0M79.5 487.6h0M86.3 501.1h0M83.9 496.7h0M86.7 502.2h0M82.2 491.5h0M81.6 491.6h0M228.9 492.3h0M227.0 498.0h0M210.5 514.0h0M229.7 478.8h0M215.9 498.0h0M202.8 511.1h0M214.8 498.7h0M202.7 510.9h0M226.4 483.9h0M229.9 479.7h0M232.2 467.7h0M230.6 479.2h0M227.7 482.7h0M213.9 490.9h0M218.3 486.3h0M200.9 502.3h0M210.6 493.3h0M216.7 486.3h0M209.7 495.0h0M221.5 479.1h0M156.8 460.2h0M132.5 459.3h0M158.0 450.1h0M156.6 444.1h0M150.9 455.1h0M155.6 455.9h0M164.3 457.0h0M139.2 442.3h0M157.2 448.3h0M157.1 443.2h0M132.4 454.4h0M163.2 453.9h0M161.3 447.2h0M162.5 454.0h0M132.2 454.9h0M160.9 458.6h0M159.4 455.7h0M149.0 461.8h0M131.3 441.9h0M125.0 458.2h0M184.3 489.6h0M97.6 479.7h0M171.2 477.6h0M173.2 464.4h0M113.4 468.5h0M138.6 443.5h0M152.0 452.1h0M167.8 456.8h0M186.8 479.0h0M133.8 448.5h0M118.4 482.1h0M126.6 452.9h0M91.9 505.0h0M166.6 466.9h0M129.1 438.4h0M84.8 506.2h0M88.3 480.4h0M46.2 370.8h0M53.2 400.0h0M50.0 413.7h0M59.5 432.9h0M61.7 439.6h0M99.3 470.8h0M222.6 453.9h0M228.9 446.9h0M230.4 467.3h0M56.8 511.5h0M136.0 437.2h0M138.3 438.4h0M160.5 440.9h0" stroke="#2f88ad" stroke-width="2.3" stroke-linecap="round" fill="none"/>
<rect x="36.7" y="286.2" width="207.7" height="262.3" fill="none" stroke="#222" stroke-width="1.1"/>
<line x1="33.3" y1="538.2" x2="36.7" y2="538.2" stroke="#333" stroke-width="0.9"/>
<text x="31.6" y="540.8000000000001" font-size="7.4" fill="#333" color="#333" text-anchor="end">0</text>
<line x1="33.3" y1="475.82500000000005" x2="36.7" y2="475.82500000000005" stroke="#333" stroke-width="0.9"/>
<text x="31.6" y="478.42500000000007" font-size="7.4" fill="#333" color="#333" text-anchor="end">2.5</text>
<line x1="33.3" y1="413.45000000000005" x2="36.7" y2="413.45000000000005" stroke="#333" stroke-width="0.9"/>
<text x="31.6" y="416.05000000000007" font-size="7.4" fill="#333" color="#333" text-anchor="end">5</text>
<line x1="33.3" y1="351.07500000000005" x2="36.7" y2="351.07500000000005" stroke="#333" stroke-width="0.9"/>
<text x="31.6" y="353.67500000000007" font-size="7.4" fill="#333" color="#333" text-anchor="end">7.5</text>
<line x1="33.3" y1="288.70000000000005" x2="36.7" y2="288.70000000000005" stroke="#333" stroke-width="0.9"/>
<text x="31.6" y="291.30000000000007" font-size="7.4" fill="#333" color="#333" text-anchor="end">10</text>
<line x1="83.99999999999999" y1="548.5" x2="83.99999999999999" y2="551.8" stroke="#333" stroke-width="0.9"/>
<text x="83.99999999999999" y="562.2" font-size="7.4" fill="#333" color="#333" text-anchor="middle">−4</text>
<line x1="145.2" y1="548.5" x2="145.2" y2="551.8" stroke="#333" stroke-width="0.9"/>
<text x="145.2" y="562.2" font-size="7.4" fill="#333" color="#333" text-anchor="middle">0</text>
<line x1="206.39999999999998" y1="548.5" x2="206.39999999999998" y2="551.8" stroke="#333" stroke-width="0.9"/>
<text x="206.39999999999998" y="562.2" font-size="7.4" fill="#333" color="#333" text-anchor="middle">4</text>
<text x="113.3" y="574.9" font-size="8.4" fill="#1e1e1e" style="stroke-width:0.3px" textLength="53.9" lengthAdjust="spacingAndGlyphs">Log2 (fold change)</text>
<text transform="translate(14.2,439.6) rotate(-90)" x="0" y="0" font-size="8.9" fill="#1e1e1e" style="stroke-width:0.3px" textLength="44.6" lengthAdjust="spacingAndGlyphs">-Log10(<tspan font-style="italic">P</tspan> value)</text>
<circle cx="134" cy="297.5" r="1.15" fill="#2a3f2a"/>
<text x="129.2" y="294.6" font-size="7.1" fill="#5a9a5e" color="#5a9a5e" textLength="18.8" lengthAdjust="spacingAndGlyphs">atf7ip</text>
<circle cx="182.1" cy="351.5" r="1.15" fill="#4a1020"/>
<text x="169.8" y="359" font-size="7.1" fill="#b02a4c" color="#b02a4c" textLength="21.2" lengthAdjust="spacingAndGlyphs">mrc1a</text>
<text x="158.7" y="366.8" font-size="7.1" fill="#b02a4c" color="#b02a4c" textLength="38.6" lengthAdjust="spacingAndGlyphs">hsp90aa1.1</text>
<circle cx="171.7" cy="369.8" r="1.15" fill="#4a1020"/>
<circle cx="169.2" cy="372.2" r="1.15" fill="#4a1020"/>
<circle cx="153.1" cy="379.1" r="1.15" fill="#4a1020"/>
<text x="157.5" y="380.6" font-size="7.1" fill="#b02a4c" color="#b02a4c" textLength="18.1" lengthAdjust="spacingAndGlyphs">stab2</text>
<circle cx="131.2" cy="388" r="1.15" fill="#2a3f2a"/>
<text x="128.5" y="389.1" font-size="7.1" fill="#5a9a5e" color="#5a9a5e" text-anchor="end" textLength="66.5" lengthAdjust="spacingAndGlyphs">si:ch211−195b15.8</text>
<text x="135.7" y="388.9" font-size="7.1" fill="#b02a4c" color="#b02a4c" textLength="27.6" lengthAdjust="spacingAndGlyphs">gpm6bb</text>
<text x="130.7" y="397.2" font-size="7.1" fill="#5a9a5e" color="#5a9a5e" textLength="20.2" lengthAdjust="spacingAndGlyphs">xpo1b</text>
<circle cx="135.3" cy="401.6" r="1.15" fill="#2a3f2a"/>
<circle cx="133.4" cy="407.3" r="1.15" fill="#2a3f2a"/>
<text x="116.8" y="415.4" font-size="7.1" fill="#5a9a5e" color="#5a9a5e" textLength="23.6" lengthAdjust="spacingAndGlyphs">carmil2</text>
<text x="164.2" y="419.8" font-size="7.1" fill="#b02a4c" color="#b02a4c" textLength="19.9" lengthAdjust="spacingAndGlyphs">klhl43</text>
<circle cx="168.8" cy="423.4" r="1.4" fill="#b01535"/>
<circle cx="167.3" cy="425" r="1.4" fill="#b01535"/>
<text x="151.7" y="432" font-size="7.1" fill="#b02a4c" color="#b02a4c" textLength="25.2" lengthAdjust="spacingAndGlyphs">unc45b</text>
<circle cx="157.7" cy="430" r="1.4" fill="#b01535"/>
<circle cx="170.2" cy="430" r="1.4" fill="#b01535"/>
<text x="250.4" y="292.2" font-size="7.2" fill="#222" color="#222" textLength="36.9" lengthAdjust="spacingAndGlyphs">Gene group</text>
<circle cx="252.1" cy="300.8" r="2.1" fill="#a51535"/>
<circle cx="252.1" cy="311.7" r="2.1" fill="#3f9a4f"/>
<circle cx="252.1" cy="322.7" r="2.1" fill="#2aaae0"/>
<text x="257.3" y="303.3" font-size="7.2" fill="#222" color="#222" textLength="25.6" lengthAdjust="spacingAndGlyphs">DEG-up</text>
<text x="257.3" y="314.2" font-size="7.2" fill="#222" color="#222" textLength="34.6" lengthAdjust="spacingAndGlyphs">DEG-down</text>
<text x="257.3" y="325.2" font-size="7.2" fill="#222" color="#222" textLength="34.1" lengthAdjust="spacingAndGlyphs">Non-DEGs</text>
<text x="307.6" y="269.6" font-size="11" fill="#000" color="#000" font-weight="bold">D</text>
<text x="355.4" y="281.2" font-size="9.3" fill="#1a1a1a" textLength="58.3" lengthAdjust="spacingAndGlyphs">Whole embryo</text>
<line x1="337.4" y1="286.4" x2="337.4" y2="375.7" stroke="#222" stroke-width="1.1"/>
<line x1="337.4" y1="375.2" x2="431.2" y2="375.2" stroke="#222" stroke-width="1.1"/>
<line x1="334.09999999999997" y1="375.2" x2="337.4" y2="375.2" stroke="#222" stroke-width="0.9"/>
<text x="331.0" y="377.8" font-size="7.4" fill="#222" color="#222" text-anchor="end">0.0</text>
<line x1="334.09999999999997" y1="353.7" x2="337.4" y2="353.7" stroke="#222" stroke-width="0.9"/>
<text x="331.0" y="356.3" font-size="7.4" fill="#222" color="#222" text-anchor="end">0.5</text>
<line x1="334.09999999999997" y1="332.2" x2="337.4" y2="332.2" stroke="#222" stroke-width="0.9"/>
<text x="331.0" y="334.8" font-size="7.4" fill="#222" color="#222" text-anchor="end">1.0</text>
<line x1="334.09999999999997" y1="310.7" x2="337.4" y2="310.7" stroke="#222" stroke-width="0.9"/>
<text x="331.0" y="313.3" font-size="7.4" fill="#222" color="#222" text-anchor="end">1.5</text>
<line x1="334.09999999999997" y1="289.2" x2="337.4" y2="289.2" stroke="#222" stroke-width="0.9"/>
<text x="331.0" y="291.8" font-size="7.4" fill="#222" color="#222" text-anchor="end">2.0</text>
<line x1="359" y1="375.2" x2="359" y2="377.7" stroke="#222" stroke-width="0.9"/>
<line x1="409.3" y1="375.2" x2="409.3" y2="377.7" stroke="#222" stroke-width="0.9"/>
<rect x="343.8" y="327.03999999999996" width="11.6" height="48.160000000000004" fill="#27a7df"/>
<line x1="349.6" y1="303.39" x2="349.6" y2="327.03999999999996" stroke="#2a2a2a" stroke-width="0.9"/>
<line x1="346.8" y1="303.39" x2="352.40000000000003" y2="303.39" stroke="#2a2a2a" stroke-width="1"/>
<rect x="362.8" y="317.58" width="11.6" height="57.620000000000005" fill="#cb0d37"/>
<line x1="368.6" y1="308.12" x2="368.6" y2="317.58" stroke="#2a2a2a" stroke-width="0.9"/>
<line x1="365.8" y1="308.12" x2="371.40000000000003" y2="308.12" stroke="#2a2a2a" stroke-width="1"/>
<rect x="394" y="331.77" width="11.6" height="43.43" fill="#27a7df"/>
<line x1="399.8" y1="319.73" x2="399.8" y2="331.77" stroke="#2a2a2a" stroke-width="0.9"/>
<line x1="397.0" y1="319.73" x2="402.6" y2="319.73" stroke="#2a2a2a" stroke-width="1"/>
<rect x="412.8" y="333.06" width="11.6" height="42.14" fill="#cb0d37"/>
<line x1="418.6" y1="313.28" x2="418.6" y2="333.06" stroke="#2a2a2a" stroke-width="0.9"/>
<line x1="415.8" y1="313.28" x2="421.40000000000003" y2="313.28" stroke="#2a2a2a" stroke-width="1"/>
<path d="M349.6,301.5 V294.2 H368.6 V302.2" fill="none" stroke="#2a2a2a" stroke-width="0.9"/>
<path d="M399.4,311.8 V302.8 H418.5 V312.8" fill="none" stroke="#2a2a2a" stroke-width="0.9"/>
<text x="358.5" y="291.5" font-size="7.2" fill="#222" color="#222" text-anchor="middle">ns</text>
<text x="408.5" y="299.5" font-size="7.2" fill="#222" color="#222" text-anchor="middle">ns</text>
<text transform="translate(314.5,357.90000000000003) rotate(-90)" x="0" y="0" font-size="8.9" fill="#1e1e1e" style="stroke-width:0.3px" textLength="54.6" lengthAdjust="spacingAndGlyphs">Relative expression</text>
<text x="359.2" y="388.3" font-size="7.8" fill="#222" color="#222" text-anchor="middle" textLength="39.8" lengthAdjust="spacingAndGlyphs" font-style="italic">hsp90aa1.1</text>
<text x="408" y="388.3" font-size="7.8" fill="#222" color="#222" text-anchor="middle" textLength="19.4" lengthAdjust="spacingAndGlyphs" font-style="italic">xpo1b</text>
<text x="307.6" y="414.4" font-size="11" fill="#000" color="#000" font-weight="bold">E</text>
<text x="359.5" y="425.8" font-size="9.3" fill="#1a1a1a" textLength="49.5" lengthAdjust="spacingAndGlyphs">+<tspan font-style="italic">gata1</tspan>-cells</text>
<line x1="336.4" y1="431.00000000000006" x2="336.4" y2="520.7" stroke="#222" stroke-width="1.1"/>
<line x1="336.4" y1="520.2" x2="431.2" y2="520.2" stroke="#222" stroke-width="1.1"/>
<line x1="333.09999999999997" y1="520.2" x2="336.4" y2="520.2" stroke="#222" stroke-width="0.9"/>
<text x="330.0" y="522.8000000000001" font-size="7.4" fill="#222" color="#222" text-anchor="end">0</text>
<line x1="333.09999999999997" y1="491.40000000000003" x2="336.4" y2="491.40000000000003" stroke="#222" stroke-width="0.9"/>
<text x="330.0" y="494.00000000000006" font-size="7.4" fill="#222" color="#222" text-anchor="end">2</text>
<line x1="333.09999999999997" y1="462.6" x2="336.4" y2="462.6" stroke="#222" stroke-width="0.9"/>
<text x="330.0" y="465.20000000000005" font-size="7.4" fill="#222" color="#222" text-anchor="end">4</text>
<line x1="333.09999999999997" y1="433.80000000000007" x2="336.4" y2="433.80000000000007" stroke="#222" stroke-width="0.9"/>
<text x="330.0" y="436.4000000000001" font-size="7.4" fill="#222" color="#222" text-anchor="end">6</text>
<line x1="359" y1="520.2" x2="359" y2="522.7" stroke="#222" stroke-width="0.9"/>
<line x1="409.3" y1="520.2" x2="409.3" y2="522.7" stroke="#222" stroke-width="0.9"/>
<rect x="344" y="504.648" width="11.6" height="15.552000000000001" fill="#27a7df"/>
<line x1="349.8" y1="497.16" x2="349.8" y2="510.84000000000003" stroke="#2a2a2a" stroke-width="0.9"/>
<line x1="347.0" y1="497.16" x2="352.6" y2="497.16" stroke="#2a2a2a" stroke-width="1"/>
<line x1="347.0" y1="510.84000000000003" x2="352.6" y2="510.84000000000003" stroke="#2a2a2a" stroke-width="1"/>
<rect x="362.5" y="472.24800000000005" width="11.6" height="47.952000000000005" fill="#cb0d37"/>
<line x1="368.3" y1="449.35200000000003" x2="368.3" y2="494.136" stroke="#2a2a2a" stroke-width="0.9"/>
<line x1="365.5" y1="449.35200000000003" x2="371.1" y2="449.35200000000003" stroke="#2a2a2a" stroke-width="1"/>
<line x1="365.5" y1="494.136" x2="371.1" y2="494.136" stroke="#2a2a2a" stroke-width="1"/>
<rect x="394" y="503.78400000000005" width="11.6" height="16.416" fill="#27a7df"/>
<line x1="399.8" y1="493.12800000000004" x2="399.8" y2="513.0" stroke="#2a2a2a" stroke-width="0.9"/>
<line x1="397.0" y1="493.12800000000004" x2="402.6" y2="493.12800000000004" stroke="#2a2a2a" stroke-width="1"/>
<line x1="397.0" y1="513.0" x2="402.6" y2="513.0" stroke="#2a2a2a" stroke-width="1"/>
<rect x="412.3" y="511.41600000000005" width="11.6" height="8.784" fill="#cb0d37"/>
<line x1="418.1" y1="507.81600000000003" x2="418.1" y2="515.1600000000001" stroke="#2a2a2a" stroke-width="0.9"/>
<line x1="415.3" y1="507.81600000000003" x2="420.90000000000003" y2="507.81600000000003" stroke="#2a2a2a" stroke-width="1"/>
<line x1="415.3" y1="515.1600000000001" x2="420.90000000000003" y2="515.1600000000001" stroke="#2a2a2a" stroke-width="1"/>
<path d="M349.5,492.4 V443.2 H368.8 V446" fill="none" stroke="#2a2a2a" stroke-width="0.9"/>
<path d="M399.4,493 V487.9 H418.5 V508" fill="none" stroke="#2a2a2a" stroke-width="0.9"/>
<text x="359.2" y="443.5" font-size="7.2" fill="#222" color="#222" text-anchor="middle">**</text>
<text x="408.5" y="486.0" font-size="7.2" fill="#222" color="#222" text-anchor="middle">*</text>
<text transform="translate(321,503.0) rotate(-90)" x="0" y="0" font-size="8.9" fill="#1e1e1e" style="stroke-width:0.3px" textLength="54.6" lengthAdjust="spacingAndGlyphs">Relative expression</text>
<text x="359.2" y="532.8" font-size="7.8" fill="#222" color="#222" text-anchor="middle" textLength="39.8" lengthAdjust="spacingAndGlyphs" font-style="italic">hsp90aa1.1</text>
<text x="408" y="532.8" font-size="7.8" fill="#222" color="#222" text-anchor="middle" textLength="19.4" lengthAdjust="spacingAndGlyphs" font-style="italic">xpo1b</text>
<text x="434.1" y="291.8" font-size="6.6" fill="#1a1a1a" color="#1a1a1a" textLength="78.8" lengthAdjust="spacingAndGlyphs">Treatment from 11-36 hpf</text>
<rect x="434.1" y="297.9" width="5.8" height="5.8" fill="#27a7df"/>
<text x="442.90000000000003" y="302.79999999999995" font-size="6.9" fill="#1a1a1a" color="#1a1a1a" textLength="31.6" lengthAdjust="spacingAndGlyphs">ctrl 36 hpf</text>
<rect x="434.1" y="309" width="5.8" height="5.8" fill="#cb0d37"/>
<text x="442.90000000000003" y="313.9" font-size="6.9" fill="#1a1a1a" color="#1a1a1a" textLength="49.4" lengthAdjust="spacingAndGlyphs">7,17-diHDPAn-3</text>
<text x="434.1" y="437" font-size="6.6" fill="#1a1a1a" color="#1a1a1a" textLength="78.8" lengthAdjust="spacingAndGlyphs">Treatment from 11-36 hpf</text>
<rect x="434.1" y="442.8" width="5.8" height="5.8" fill="#27a7df"/>
<text x="442.90000000000003" y="447.7" font-size="6.9" fill="#1a1a1a" color="#1a1a1a" textLength="31.6" lengthAdjust="spacingAndGlyphs">ctrl 36 hpf</text>
<rect x="434.1" y="453.9" width="5.8" height="5.8" fill="#cb0d37"/>
<text x="442.90000000000003" y="458.79999999999995" font-size="6.9" fill="#1a1a1a" color="#1a1a1a" textLength="49.4" lengthAdjust="spacingAndGlyphs">7,17-diHDPAn-3</text>
</svg>
<div class="frame"></div>
</body></html>
